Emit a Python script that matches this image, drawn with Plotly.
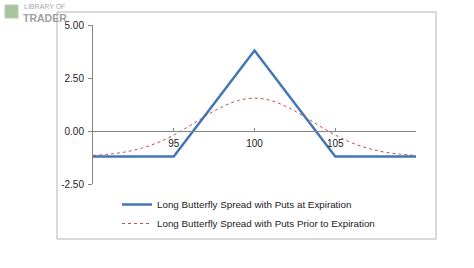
import plotly.graph_objects as go

# ---- data ----
expiry_x = [90, 95, 100, 105, 110]
expiry_y = [-1.2, -1.2, 3.8, -1.2, -1.2]

prior_x = [90, 91, 92, 93, 94, 95, 96, 97, 98, 99, 100,
           101, 102, 103, 104, 105, 106, 107, 108, 109, 110]
prior_y = [-1.15, -1.09, -0.99, -0.81, -0.55, -0.19, 0.25, 0.72, 1.14, 1.44, 1.55,
           1.44, 1.14, 0.72, 0.25, -0.19, -0.55, -0.81, -0.99, -1.09, -1.15]

name_expiry = "Long Butterfly Spread with Puts at Expiration"
name_prior = "Long Butterfly Spread with Puts Prior to Expiration"

x_ticks = [95, 100, 105]
y_ticks = [5, 2.5, 0, -2.5]
y_tick_text = ["5.00", "2.50", "0.00", "-2.50"]

FONT = "Liberation Sans"

fig = go.Figure()
fig.add_trace(go.Scatter(x=expiry_x, y=expiry_y, mode="lines", name=name_expiry,
                         line=dict(color="#4276B6", width=2.5)))
fig.add_trace(go.Scatter(x=prior_x, y=prior_y, mode="lines", name=name_prior,
                         line=dict(color="#C0504D", width=1, dash="3px,3px", shape="spline")))

L, R, T, B = 93, 58, 25, 84
W, H = 474, 268
pw, ph = W - L - R, H - T - B

def px_x(p):
    return (p - L) / pw

def px_y(p):
    return (H - B - p) / ph

fig.update_layout(
    width=W, height=H,
    margin=dict(l=L, r=R, t=T, b=B, pad=0),
    paper_bgcolor="white", plot_bgcolor="white",
    font=dict(family=FONT, size=9, color="#333333"),
    showlegend=True,
    legend=dict(x=px_x(117), y=px_y(190), xanchor="left", yanchor="top",
                bgcolor="rgba(0,0,0,0)", font=dict(size=9.8, color="#222222"),
                tracegroupgap=0, itemwidth=30),
    xaxis=dict(range=[90, 110], tickvals=x_ticks, ticktext=[str(v) for v in x_ticks],
               showgrid=False, zeroline=False, showline=True, linecolor="#868686",
               linewidth=1, ticks="inside", ticklen=3, tickcolor="#868686",
               ticklabelstandoff=3,
               anchor="free", position=1/3, tickfont=dict(size=10, color="#222222")),
    yaxis=dict(range=[-2.5, 5], tickvals=y_ticks, ticktext=y_tick_text,
               showgrid=False, zeroline=False, showline=True, linecolor="#868686",
               linewidth=1, ticks="outside", ticklen=4, tickcolor="#868686",
               ticklabelstandoff=2,
               tickfont=dict(size=10, color="#222222")),
    shapes=[
        dict(type="rect", xref="paper", yref="paper",
             x0=px_x(57), x1=px_x(436), y0=px_y(239), y1=px_y(12),
             line=dict(color="#B4B4B4", width=1), layer="below"),
        dict(type="rect", xref="paper", yref="paper",
             x0=px_x(5), x1=px_x(18), y0=px_y(18), y1=px_y(5),
             line=dict(color="#B7CDB0", width=1), fillcolor="#A9C49F", layer="above"),
    ],
    annotations=[
        dict(text="LIBRARY OF", xref="paper", yref="paper", x=px_x(22), y=px_y(1),
             xanchor="left", yanchor="top", showarrow=False,
             font=dict(family=FONT, size=7, color="#A8A8A8")),
        dict(text="<b>TRADER</b>", xref="paper", yref="paper", x=px_x(21), y=px_y(10.5),
             xanchor="left", yanchor="top", showarrow=False,
             font=dict(family=FONT, size=10.5, color="#A0A0A0")),
    ],
)

fig.write_html("out.html")
